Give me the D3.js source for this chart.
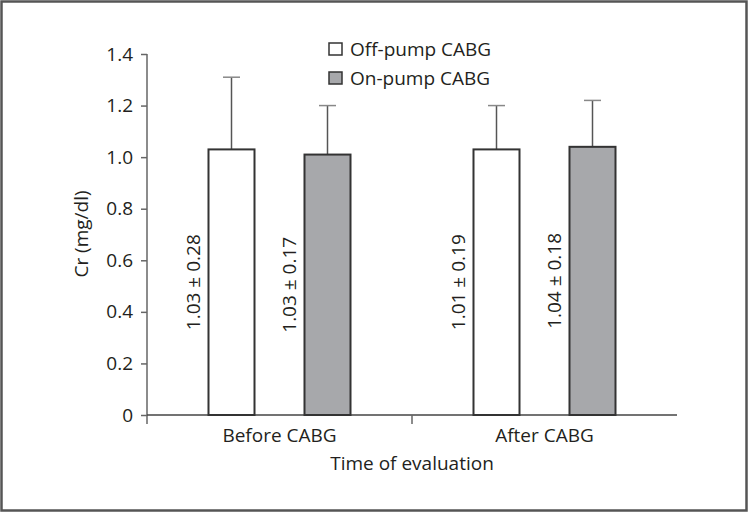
<!DOCTYPE html>
<html>
<head>
<meta charset="utf-8">
<script src="https://cdn.jsdelivr.net/npm/d3@7"></script>
<style>
  body { margin: 0; background: #fff; }
  text { font-family: "Open Sans", sans-serif; fill: #231f20; }
</style>
</head>
<body>
<div id="chart"></div>
<script>
const groups = ["Before CABG", "After CABG"];
const series = ["Off-pump CABG", "On-pump CABG"];
// bar heights and error-bar tops
const offPump = [1.03, 1.03];
const onPump = [1.01, 1.04];
const offPumpTop = [1.31, 1.20];
const onPumpTop = [1.20, 1.22];
const offPumpLabels = ["1.03 ± 0.28", "1.01 ± 0.19"];
const onPumpLabels = ["1.03 ± 0.17", "1.04 ± 0.18"];
const yTicks = [0, 0.2, 0.4, 0.6, 0.8, 1.0, 1.2, 1.4];

const width = 748;
const height = 512;
const marginTop = 54;
const marginRight = 71;
const marginBottom = 97;
const marginLeft = 147;
const fontSize = 19;

const fills = ["#ffffff", "#a7a8ab"];

const data = [];
groups.forEach((g, i) => {
  data.push({group: g, series: series[0], value: offPump[i], top: offPumpTop[i], label: offPumpLabels[i]});
  data.push({group: g, series: series[1], value: onPump[i], top: onPumpTop[i], label: onPumpLabels[i]});
});

const x = d3.scaleBand()
    .domain(groups)
    .range([marginLeft, width - marginRight]);
const xSub = d3.scaleBand()
    .domain(series)
    .range([0, x.bandwidth()])
    .paddingInner(0.5208)
    .paddingOuter(0.6406);
const y = d3.scaleLinear()
    .domain([0, 1.4])
    .range([height - marginBottom, marginTop]);
const color = d3.scaleOrdinal().domain(series).range(fills);

const svg = d3.select("#chart")
  .append("svg")
    .attr("width", width)
    .attr("height", height);

// frame
svg.append("rect")
    .attr("x", 1.5).attr("y", 1.5)
    .attr("width", width - 3).attr("height", height - 3)
    .attr("fill", "none")
    .attr("stroke", "#555")
    .attr("stroke-width", 2.5);

// y axis
const yAxis = svg.append("g")
    .attr("transform", `translate(${marginLeft},0)`)
    .call(d3.axisLeft(y)
        .tickValues(yTicks)
        .tickSize(6)
        .tickPadding(8)
        .tickFormat(d => d === 0 ? "0" : d3.format(".1f")(d)));
yAxis.select(".domain")
    .attr("d", `M0,${y(1.4)}V${y(0) + 9}`)
    .attr("stroke", "#666").attr("stroke-width", 1.5);
yAxis.selectAll(".tick line").attr("stroke", "#666").attr("stroke-width", 1.5);
yAxis.selectAll(".tick text")
    .attr("font-size", fontSize)
    .attr("fill", "#231f20");

// x axis
const xAxis = svg.append("g")
    .attr("transform", `translate(0,${y(0)})`);
xAxis.append("line")
    .attr("x1", marginLeft).attr("x2", width - marginRight)
    .attr("stroke", "#444").attr("stroke-width", 1.5);
xAxis.append("line")
    .attr("x1", x(groups[1])).attr("x2", x(groups[1]))
    .attr("y1", 0).attr("y2", 9)
    .attr("stroke", "#666").attr("stroke-width", 1.5);
xAxis.selectAll(".glabel")
  .data(groups)
  .join("text")
    .attr("x", d => x(d) + x.bandwidth() / 2)
    .attr("y", 27)
    .attr("text-anchor", "middle")
    .attr("font-size", fontSize)
    .text(d => d);

// axis titles
svg.append("text")
    .attr("x", (marginLeft + width - marginRight) / 2)
    .attr("y", 470)
    .attr("text-anchor", "middle")
    .attr("font-size", fontSize)
    .text("Time of evaluation");
svg.append("text")
    .attr("transform", `translate(88,${234}) rotate(-90)`)
    .attr("text-anchor", "middle")
    .attr("font-size", fontSize)
    .text("Cr (mg/dl)");

const bx = d => x(d.group) + xSub(d.series);

// error bars
const err = svg.append("g").attr("stroke", "#555").attr("stroke-width", 1.5);
err.selectAll(".stem")
  .data(data)
  .join("line")
    .attr("x1", d => bx(d) + xSub.bandwidth() / 2)
    .attr("x2", d => bx(d) + xSub.bandwidth() / 2)
    .attr("y1", d => y(d.value))
    .attr("y2", d => y(d.top));
err.selectAll(".cap")
  .data(data)
  .join("line")
    .attr("x1", d => bx(d) + xSub.bandwidth() / 2 - 8.5)
    .attr("x2", d => bx(d) + xSub.bandwidth() / 2 + 8.5)
    .attr("y1", d => y(d.top))
    .attr("y2", d => y(d.top))
    .attr("stroke", "#888");

// bars
svg.append("g")
  .selectAll("rect")
  .data(data)
  .join("rect")
    .attr("x", d => bx(d))
    .attr("y", d => y(d.value))
    .attr("width", xSub.bandwidth())
    .attr("height", d => y(0) - y(d.value))
    .attr("fill", d => color(d.series))
    .attr("stroke", "#333")
    .attr("stroke-width", 2);

// value labels
svg.append("g")
  .selectAll("text")
  .data(data)
  .join("text")
    .attr("transform", d => `translate(${bx(d) - 8},${(y(d.value) + y(0)) / 2}) rotate(-90)`)
    .attr("text-anchor", "middle")
    .attr("font-size", fontSize)
    .text(d => d.label);

// legend
const legend = svg.append("g")
    .attr("transform", "translate(329,43)");
const item = legend.selectAll("g")
  .data(series)
  .join("g")
    .attr("transform", (d, i) => `translate(0,${i * 29})`);
item.append("rect")
    .attr("width", 13).attr("height", 12)
    .attr("fill", d => color(d))
    .attr("stroke", "#333")
    .attr("stroke-width", 1.5);
item.append("text")
    .attr("x", 21)
    .attr("y", 12.5)
    .attr("font-size", fontSize)
    .text(d => d);
</script>
</body>
</html>
